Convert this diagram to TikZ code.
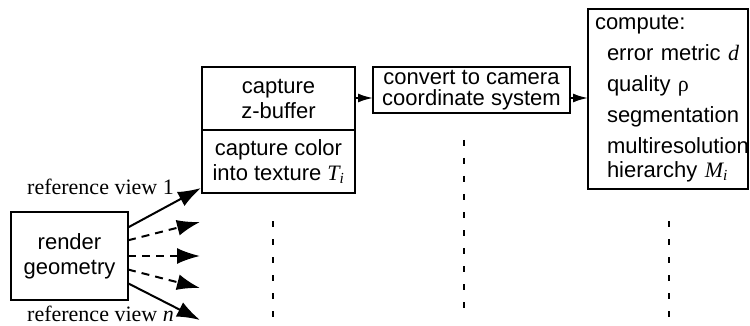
\documentclass[tikz,border=0pt]{standalone}
\usepackage{fontspec}
\setmainfont{Liberation Serif}
\setsansfont{Liberation Sans}
\usetikzlibrary{arrows.meta}

\tikzset{
  box/.style={draw, line width=2.5pt, inner sep=0pt, outer sep=0pt, align=center,
    font=\sffamily\fontsize{22}{25}\selectfont},
  viewlabel/.style={anchor=base west, inner sep=0pt, font=\rmfamily\fontsize{22}{25}\selectfont},
  bigarrow/.style={line width=2pt, -{Latex[length=23pt,width=16pt]}},
  smallarrow/.style={line width=2pt, -{Latex[length=15pt,width=9pt]}},
  guide/.style={line width=2pt, dash pattern=on 6pt off 12pt},
}
\newcommand{\ivar}[2]{{\rmfamily\itshape #1}\textsubscript{\rmfamily\itshape #2}}

\begin{document}
\begin{tikzpicture}[x=1pt,y=-1pt]
  \useasboundingbox (0,0) rectangle (750,326);
  % boxes
  \node[box, minimum width=117pt, minimum height=88pt] (render) at (69.5,256) {render\\geometry};
  \node[box, minimum width=153pt, minimum height=63pt] (zbuf) at (278.5,98.5) {capture\\z-buffer};
  \node[box, minimum width=153pt, minimum height=63pt, anchor=north] (color) at (zbuf.south) {capture color\\into texture \ivar{T}{i}};
  \node[box, minimum width=197pt, minimum height=46pt, font=\sffamily\fontsize{22}{21}\selectfont] (convert) at (471.5,90) {convert to camera\\coordinate system};
  \node[box, anchor=north west, minimum width=160pt, minimum height=180pt, align=left,
    text width=146pt, inner xsep=7pt, font=\sffamily\fontsize{22}{24}\selectfont] (compute) at (588,9)
    {compute:\\[7pt]
     \hspace*{12pt}error metric {\rmfamily\itshape d}\\[7pt]
     \hspace*{12pt}quality {\rmfamily ρ}\\[7pt]
     \hspace*{12pt}segmentation\\[7pt]
     \hspace*{12pt}\mbox{multiresolution}\\
     \hspace*{12pt}hierarchy \ivar{M}{i}};
  % arrows between the boxes
  \draw[smallarrow] (zbuf.east |- 0,98) -- (convert.west |- 0,98);
  \draw[smallarrow] (convert.east |- 0,98) -- (compute.west |- 0,98);
  % reference views
  \coordinate (tipone) at (201,188);
  \coordinate (tiptwo) at (200,222);
  \coordinate (tipthree) at (200,256);
  \coordinate (tipfour) at (200,288);
  \coordinate (tipn) at (200,320);
  \draw[bigarrow] (render.26) -- (tipone);
  \draw[bigarrow, dash pattern=on 8pt off 6pt] (render.15) -- (tiptwo);
  \draw[bigarrow, dash pattern=on 8pt off 6pt] (render.0) -- (tipthree);
  \draw[bigarrow, dash pattern=on 8pt off 6pt] (render.-13) -- (tipfour);
  \draw[bigarrow] (render.-25) -- (tipn);
  \node[viewlabel] (viewone) at (27,195) {reference view 1};
  \node[viewlabel] (viewn) at (27,321) {reference view \textit{n}};
  % more views below
  \draw[guide] (273,221) -- (273,319);
  \draw[guide] (464,140) -- (464,319);
  \draw[guide] (669,221) -- (669,319);
\end{tikzpicture}
\end{document}
